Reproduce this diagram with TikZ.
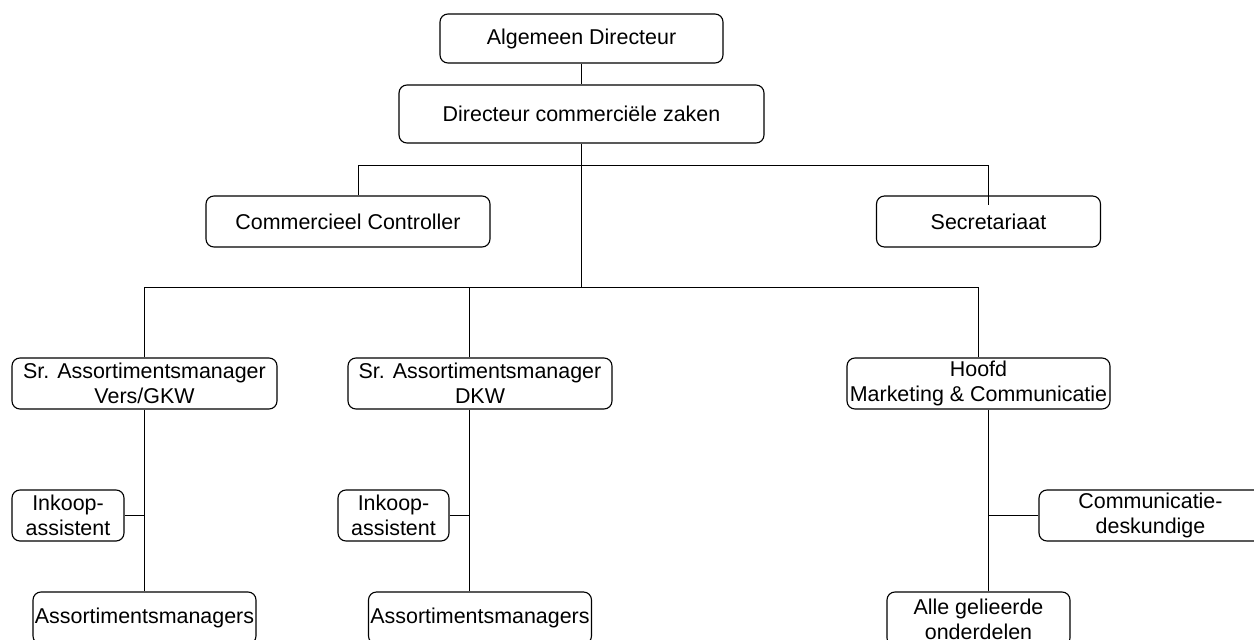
\documentclass[tikz,border=0pt]{standalone}
\usepackage{fontspec}
\setmainfont{Liberation Sans}
\tikzset{
	box/.style={draw, rounded corners=4.5pt, inner sep=0pt, align=center, line width=0.65pt, minimum height=1.02cm, font=\fontsize{12.2}{14.2}\selectfont},
	link/.style={line width=0.6pt}
}
\begin{document}
\begin{tikzpicture}[x=0.02cm,y=-0.02cm]
	\clip (0,0) rectangle (1254,639);
	\node[box, minimum width=5.66cm, minimum height=0.98cm] (alg) at (581.5,38.5) {Algemeen Directeur};
	\node[box, minimum width=7.3cm, minimum height=1.16cm] (dir) at (581.5,114) {Directeur commerciële zaken};
	\node[box, minimum width=5.68cm] (cc) at (348,221.5) {Commercieel Controller};
	\node[box, minimum width=4.48cm] (sec) at (988.5,221.5) {Secretariaat};
	\node[box, minimum width=5.3cm] (vers) at (144.5,383.5) {Sr. Assortimentsmanager\\Vers/GKW};
	\node[box, minimum width=5.28cm] (dkw) at (480,383.5) {Sr. Assortimentsmanager\\DKW};
	\node[box, minimum width=5.26cm] (hmc) at (978.5,383.5) {Hoofd\\Marketing \& Communicatie};
	\node[box, minimum width=2.24cm] (ink1) at (68,515.5) {Inkoop-\\assistent};
	\node[box, minimum width=2.22cm] (ink2) at (393.5,515.5) {Inkoop-\\assistent};
	\node[box, minimum width=4.46cm] (com) at (1150.5,515.5) {Communicatie-\\deskundige};
	\node[box, minimum width=4.46cm, minimum height=1.04cm] (am1) at (144.5,618) {Assortimentsmanagers};
	\node[box, minimum width=4.46cm, minimum height=1.04cm] (am2) at (480,618) {Assortimentsmanagers};
	\node[box, minimum width=3.66cm, minimum height=1.08cm] (alle) at (978.5,619) {Alle gelieerde\\onderdelen};
	\coordinate (top) at (581.5,165.5);
	\coordinate (mid) at (581.5,287.5);
	\draw[link] (alg) -- (dir);
	\draw[link] (dir) -- (mid);
	\draw[link] ([xshift=0.21cm]cc.north) |- (top) -| ([yshift=-0.2cm]sec.north);
	\draw[link] (vers.north) |- (mid) -| (hmc.north);
	\draw[link] ([xshift=-0.21cm]dkw.north) -- ([xshift=-0.21cm]dkw.north |- mid);
	\draw[link] (vers.south) -- (am1.north);
	\draw[link] (ink1.east) -- (ink1.east -| vers.south);
	\draw[link] ([xshift=-0.21cm]dkw.south) -- ([xshift=-0.21cm]dkw.south |- am2.north);
	\draw[link] (ink2.east) -- ([xshift=-0.21cm]ink2.east -| dkw.south);
	\draw[link] ([xshift=0.2cm]hmc.south) -- ([xshift=0.2cm]hmc.south |- alle.north);
	\draw[link] (com.west) -- ([xshift=0.2cm]com.west -| hmc.south);
\end{tikzpicture}
\end{document}
